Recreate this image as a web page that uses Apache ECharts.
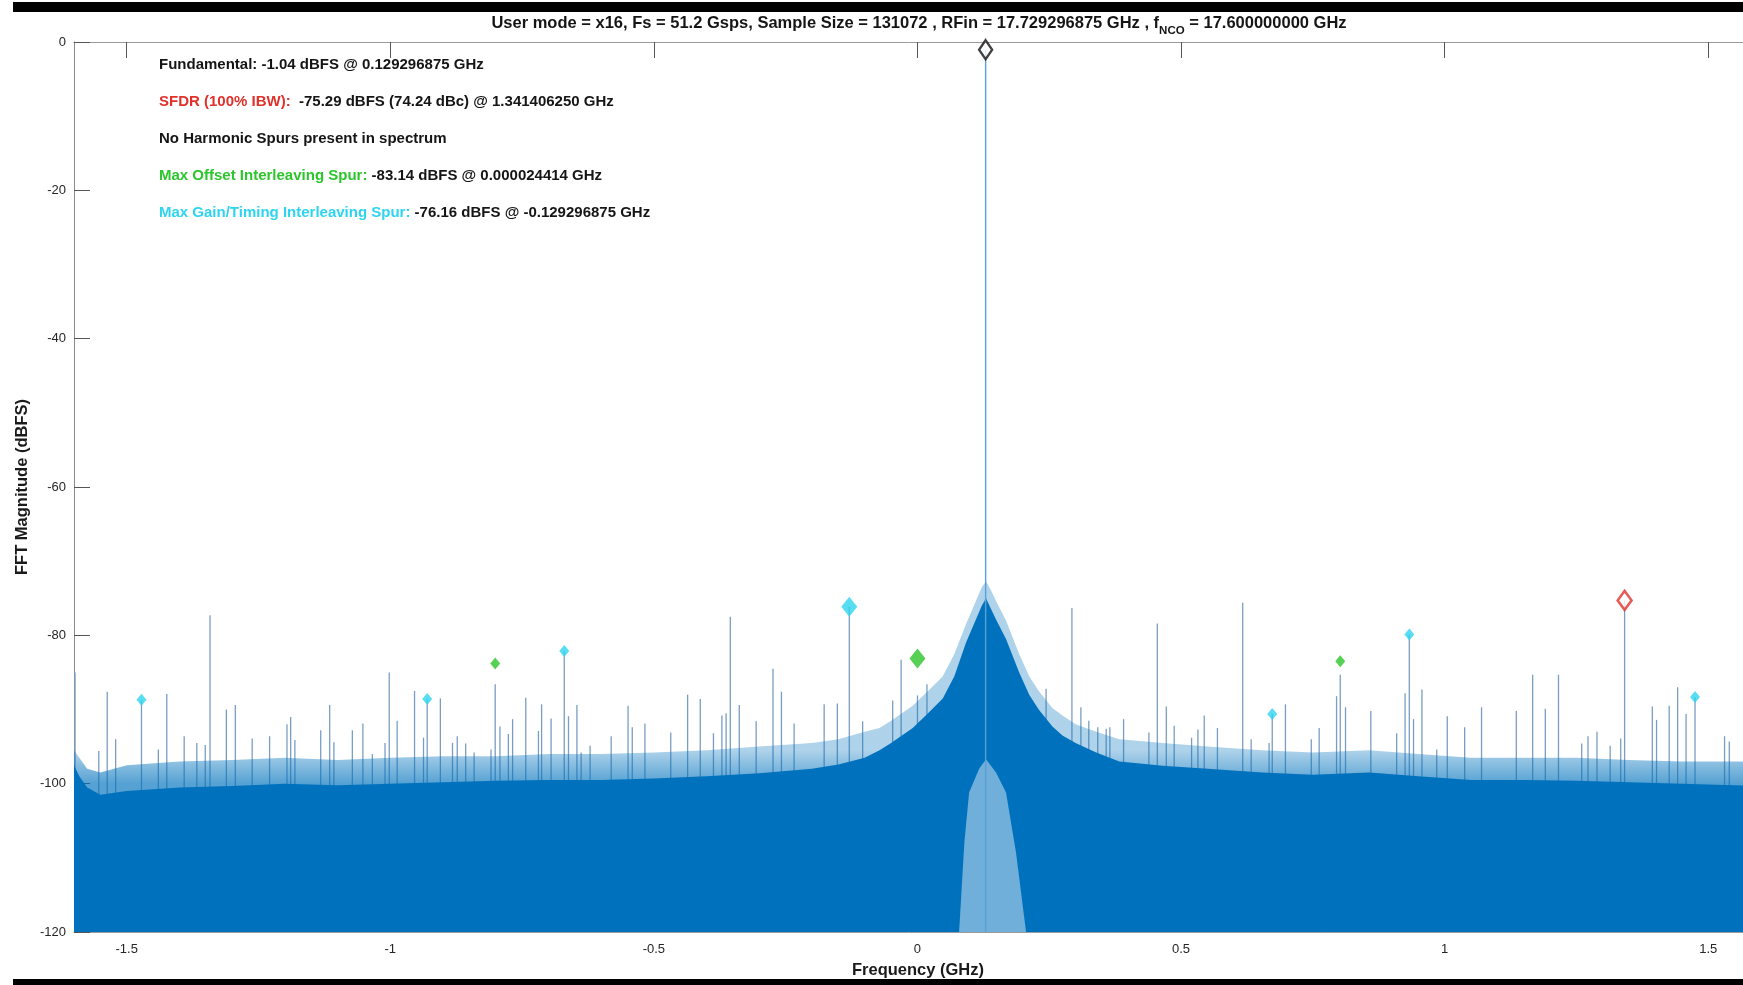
<!DOCTYPE html>
<html>
<head>
<meta charset="utf-8">
<script src="https://cdn.jsdelivr.net/npm/echarts@6/dist/echarts.min.js"></script>
<style>
html,body{margin:0;padding:0;background:#fff;overflow:hidden;}
#chart{width:1743px;height:985px;}
</style>
</head>
<body>
<div id="chart"></div>
<script>
// ---------- data ----------
const xTicks = [-1.5, -1, -0.5, 0, 0.5, 1, 1.5];
const yTicks = [-120, -100, -80, -60, -40, -20, 0];

// noise floor envelope (GHz, dBFS)
const noiseFreq = [-1.600,-1.590,-1.575,-1.550,-1.500,-1.400,-1.300,-1.200,-1.100,-1.000,-0.900,-0.800,-0.700,-0.600,-0.500,-0.400,-0.300,-0.200,-0.150,-0.100,-0.072,-0.050,-0.009,0.020,0.048,0.070,0.092,0.110,0.122,0.130,0.140,0.150,0.168,0.193,0.212,0.230,0.256,0.275,0.300,0.339,0.383,0.465,0.550,0.654,0.750,0.857,0.950,1.050,1.150,1.250,1.350,1.450,1.550,1.600];
const noiseTop  = [-95.5,-96.5,-98.0,-98.5,-97.5,-97.0,-96.8,-96.5,-96.8,-96.5,-96.3,-96.3,-96.0,-96.0,-95.8,-95.5,-95.0,-94.5,-94.0,-93.0,-92.5,-91.5,-89.5,-87.5,-85.5,-82.5,-78.5,-75.5,-73.5,-72.7,-74.0,-75.5,-78.0,-82.5,-85.5,-87.5,-89.8,-90.8,-92.0,-93.0,-94.0,-94.5,-95.0,-95.5,-95.8,-95.5,-96.0,-96.5,-96.5,-96.5,-96.8,-97.0,-97.0,-97.0];
const noiseBody = [-97.5,-99.0,-100.5,-101.5,-101.0,-100.5,-100.3,-100.0,-100.2,-100.0,-99.8,-99.6,-99.5,-99.5,-99.3,-99.0,-98.6,-98.0,-97.4,-96.5,-95.5,-94.5,-92.5,-90.5,-88.5,-85.5,-81.0,-78.0,-76.0,-75.0,-76.5,-78.0,-80.5,-85.0,-88.0,-90.0,-92.3,-93.5,-94.5,-95.8,-97.0,-97.6,-98.0,-98.5,-98.8,-98.5,-99.0,-99.5,-99.5,-99.6,-99.8,-100.0,-100.2,-100.3];

// lighter gap under the fundamental
const gapFreq  = [0.079, 0.089, 0.098, 0.117, 0.130, 0.149, 0.168, 0.187, 0.206];
const gapLevel = [-120, -107.9, -101.2, -98.0, -96.7, -98.5, -101.2, -109.3, -120];

// discrete spurs (GHz, dBFS)
const spurFreq = [-1.598,-1.553,-1.537,-1.521,-1.472,-1.440,-1.424,-1.391,-1.367,-1.351,-1.342,-1.311,-1.294,-1.262,-1.229,-1.196,-1.189,-1.181,-1.132,-1.115,-1.107,-1.072,-1.052,-1.034,-1.010,-1.002,-0.987,-0.954,-0.937,-0.930,-0.905,-0.882,-0.873,-0.857,-0.841,-0.809,-0.801,-0.792,-0.776,-0.768,-0.743,-0.719,-0.713,-0.695,-0.670,-0.662,-0.646,-0.638,-0.621,-0.581,-0.549,-0.541,-0.517,-0.468,-0.436,-0.412,-0.387,-0.371,-0.363,-0.355,-0.338,-0.306,-0.274,-0.258,-0.234,-0.177,-0.152,-0.1293,-0.104,-0.047,-0.031,0.000,0.018,0.244,0.293,0.310,0.325,0.342,0.358,0.365,0.391,0.439,0.455,0.472,0.487,0.520,0.532,0.544,0.569,0.617,0.633,0.667,0.673,0.698,0.747,0.762,0.795,0.802,0.812,0.860,0.909,0.925,0.933,0.941,0.957,0.985,1.005,1.038,1.070,1.136,1.167,1.191,1.216,1.260,1.272,1.289,1.314,1.334,1.3414,1.394,1.402,1.426,1.442,1.458,1.475,1.531,1.540];
const spurLevel = [-85.0,-95.6,-87.6,-94.0,-88.7,-95.4,-87.9,-93.6,-94.5,-94.8,-77.3,-90.0,-89.4,-93.9,-93.6,-92.0,-91.0,-94.1,-92.8,-89.4,-94.4,-92.8,-91.9,-96.0,-94.5,-85.0,-91.5,-87.5,-93.8,-88.6,-88.5,-94.5,-93.6,-94.6,-95.8,-95.4,-86.6,-92.3,-93.3,-91.3,-88.4,-92.9,-89.3,-91.2,-82.1,-90.9,-89.4,-95.8,-94.9,-93.6,-89.5,-92.4,-91.9,-93.1,-88.0,-88.6,-93.2,-90.8,-90.5,-77.5,-89.4,-91.6,-84.5,-87.6,-91.9,-89.3,-89.2,-76.16,-91.6,-88.8,-83.3,-88.1,-86.6,-87.2,-76.3,-89.7,-91.5,-92.4,-92.6,-92.4,-91.3,-93.1,-78.4,-89.6,-92.2,-93.8,-92.7,-90.8,-92.5,-75.6,-94.0,-94.5,-90.6,-89.3,-94.0,-92.5,-88.2,-85.3,-89.7,-90.2,-93.2,-87.8,-79.9,-91.3,-87.3,-95.4,-90.9,-92.4,-89.7,-90.2,-85.3,-89.9,-85.3,-94.6,-93.6,-93.0,-94.9,-93.9,-75.29,-89.6,-91.4,-89.5,-87.0,-90.6,-88.3,-93.6,-94.3];

// fundamental tone
const fundFreq = 0.129296875, fundLevel = -1.04;

// marker sets
const sfdrFreq = [1.341406250], sfdrLevel = [-75.29];
const offsetMaxFreq = [0.000024414], offsetMaxLevel = [-83.14];
const gainMaxFreq = [-0.129296875], gainMaxLevel = [-76.16];
const offsetFreq = [-0.801, 0.802], offsetLevel = [-83.8, -83.5];
const gainFreq = [-1.472, -0.930, -0.670, 0.673, 0.933, 1.475];
const gainLevel = [-88.7, -88.6, -82.1, -90.6, -79.9, -88.3];

// ---------- chart ----------
const pair = (xs, ys) => xs.map((x, i) => [x, ys[i]]);
const FONT = '"Liberation Sans", Arial, Helvetica, sans-serif';
const RED = '#e0322b', GREEN = '#2cc62c', CYAN = '#2ed4f0', INK = '#151515';

const chart = echarts.init(document.getElementById('chart'), null, {renderer: 'canvas'});

function vline(color, width) {
  return function (params, api) {
    const x = api.value(0), y = api.value(1);
    const p1 = api.coord([x, -120]);
    const p2 = api.coord([x, y]);
    return {type: 'line', shape: {x1: p1[0], y1: p1[1], x2: p2[0], y2: p2[1]},
            style: {stroke: color, lineWidth: width}};
  };
}

const labelStyle = {fontFamily: FONT, fontSize: 13, color: '#262626'};
const annot = (size) => ({fontFamily: FONT, fontSize: size, fontWeight: 'bold'});

const option = {
  animation: false,
  backgroundColor: '#ffffff',
  grid: {left: 74, right: 0, top: 42, bottom: 53, show: false},
  xAxis: [{
    type: 'value', min: -1.6, max: 1.566, position: 'bottom',
    axisLine: {show: true, onZero: false, lineStyle: {color: '#9a9a9a'}},
    axisTick: {show: true, inside: true, length: 16, customValues: xTicks, lineStyle: {color: '#555'}},
    axisLabel: {show: true, customValues: xTicks, margin: 11, ...labelStyle},
    splitLine: {show: false}
  }, {
    type: 'value', min: -1.6, max: 1.566, position: 'top',
    axisLine: {show: true, onZero: false, lineStyle: {color: '#9a9a9a'}},
    axisTick: {show: true, inside: true, length: 16, customValues: xTicks, lineStyle: {color: '#555'}},
    axisLabel: {show: false},
    splitLine: {show: false}
  }],
  yAxis: {
    type: 'value', min: -120, max: 0, interval: 20, position: 'left',
    axisLine: {show: true, onZero: false, lineStyle: {color: '#8a8a8a'}},
    axisTick: {show: true, inside: true, length: 16, lineStyle: {color: '#555'}},
    axisLabel: {show: true, margin: 8, ...labelStyle},
    splitLine: {show: false}
  },
  series: [
    {type: 'custom', name: 'spurs', z: 2, clip: true,
     renderItem: vline('#7a9ec3', 1.3), data: pair(spurFreq, spurLevel)},
    {type: 'line', id: 'fringe', name: 'noiseFringe', z: 3, symbol: 'none',
     lineStyle: {width: 0}, areaStyle: {color: 'rgba(0,114,189,0.7)', origin: 'start'},
     data: pair(noiseFreq, noiseTop)},
    {type: 'line', name: 'noiseBody', z: 4, symbol: 'none',
     lineStyle: {width: 0}, areaStyle: {color: '#0072BD', opacity: 1, origin: 'start'},
     data: pair(noiseFreq, noiseBody)},
    {type: 'line', name: 'gap', z: 5, symbol: 'none',
     lineStyle: {width: 0}, areaStyle: {color: 'rgba(255,255,255,0.62)', origin: 'start'},
     data: pair(gapFreq, gapLevel)},
    {type: 'custom', name: 'fundamental', z: 6, clip: true,
     renderItem: vline('#5a9fd6', 1.4), data: [[fundFreq, fundLevel]]},
    {type: 'scatter', name: 'fundMarker', z: 10, symbol: 'diamond', symbolSize: [13, 19],
     itemStyle: {color: '#ffffff', borderColor: '#111', borderWidth: 2.5}, data: [[fundFreq, fundLevel]]},
    {type: 'scatter', name: 'sfdrMarker', z: 10, symbol: 'diamond', symbolSize: [14, 19],
     itemStyle: {color: '#ffffff', borderColor: RED, borderWidth: 2.5}, data: pair(sfdrFreq, sfdrLevel)},
    {type: 'scatter', name: 'gainMax', z: 10, symbol: 'diamond', symbolSize: [16, 20],
     itemStyle: {color: CYAN}, data: pair(gainMaxFreq, gainMaxLevel)},
    {type: 'scatter', name: 'offsetMax', z: 10, symbol: 'diamond', symbolSize: [16, 20],
     itemStyle: {color: GREEN}, data: pair(offsetMaxFreq, offsetMaxLevel)},
    {type: 'scatter', name: 'gainSpurs', z: 10, symbol: 'diamond', symbolSize: [10, 12],
     itemStyle: {color: CYAN}, data: pair(gainFreq, gainLevel)},
    {type: 'scatter', name: 'offsetSpurs', z: 10, symbol: 'diamond', symbolSize: [10, 12],
     itemStyle: {color: GREEN}, data: pair(offsetFreq, offsetLevel)}
  ],
  graphic: [
    {type: 'rect', shape: {x: 13, y: 2, width: 1730, height: 10}, style: {fill: '#000'}, z: 100},
    {type: 'rect', shape: {x: 13, y: 979, width: 1730, height: 6}, style: {fill: '#000'}, z: 100},
    {type: 'text', x: 919, y: 15, z: 100,
     style: {
       text: '{m|User mode = x16, Fs = 51.2 Gsps, Sample Size = 131072 , RFin = 17.729296875 GHz , f}{s|NCO}{m| = 17.600000000 GHz}',
       align: 'center', verticalAlign: 'top',
       rich: {
         m: {...annot(16.5), fill: INK, lineHeight: 19, verticalAlign: 'top'},
         s: {...annot(11.5), fill: INK, lineHeight: 12, padding: [10, 0, 0, 0], verticalAlign: 'top'}
       }
     }},
    {type: 'text', x: 159, y: 64.5, z: 100,
     style: {text: '{k|Fundamental: -1.04 dBFS @ 0.129296875 GHz}', verticalAlign: 'middle',
       rich: {k: {...annot(15), fill: INK}}}},
    {type: 'text', x: 159, y: 102, z: 100,
     style: {text: '{r|SFDR (100% IBW):}{k|  -75.29 dBFS (74.24 dBc) @ 1.341406250 GHz}', verticalAlign: 'middle',
       rich: {r: {...annot(15), fill: RED}, k: {...annot(15), fill: INK}}}},
    {type: 'text', x: 159, y: 139, z: 100,
     style: {text: '{k|No Harmonic Spurs present in spectrum}', verticalAlign: 'middle',
       rich: {k: {...annot(15), fill: INK}}}},
    {type: 'text', x: 159, y: 176, z: 100,
     style: {text: '{g|Max Offset Interleaving Spur:}{k| -83.14 dBFS @ 0.000024414 GHz}', verticalAlign: 'middle',
       rich: {g: {...annot(15), fill: GREEN}, k: {...annot(15), fill: INK}}}},
    {type: 'text', x: 159, y: 213, z: 100,
     style: {text: '{c|Max Gain/Timing Interleaving Spur:}{k| -76.16 dBFS @ -0.129296875 GHz}', verticalAlign: 'middle',
       rich: {c: {...annot(15), fill: CYAN}, k: {...annot(15), fill: INK}}}},
    {type: 'text', x: 918, y: 970, z: 100,
     style: {text: 'Frequency (GHz)', align: 'center', verticalAlign: 'middle',
       fontFamily: FONT, fontSize: 16.5, fontWeight: 'bold', fill: '#1a1a1a'}},
    {type: 'text', x: 22, y: 487, rotation: Math.PI / 2, z: 100,
     style: {text: 'FFT Magnitude (dBFS)', align: 'center', verticalAlign: 'middle',
       fontFamily: FONT, fontSize: 16.5, fontWeight: 'bold', fill: '#1a1a1a'}}
  ]
};
chart.setOption(option);

// fringe shading: fades from light at the jagged top to solid, placed through the y scale
const yHi = chart.convertToPixel({yAxisIndex: 0}, -95.5);
const yLo = chart.convertToPixel({yAxisIndex: 0}, -100);
chart.setOption({series: [{id: 'fringe', areaStyle: {origin: 'start', color: {
  type: 'linear', x: 0, y: yHi, x2: 0, y2: yLo, global: true,
  colorStops: [{offset: 0, color: 'rgba(0,114,189,0.45)'}, {offset: 1, color: 'rgba(0,114,189,0.95)'}]
}}}]});
</script>
</body>
</html>
